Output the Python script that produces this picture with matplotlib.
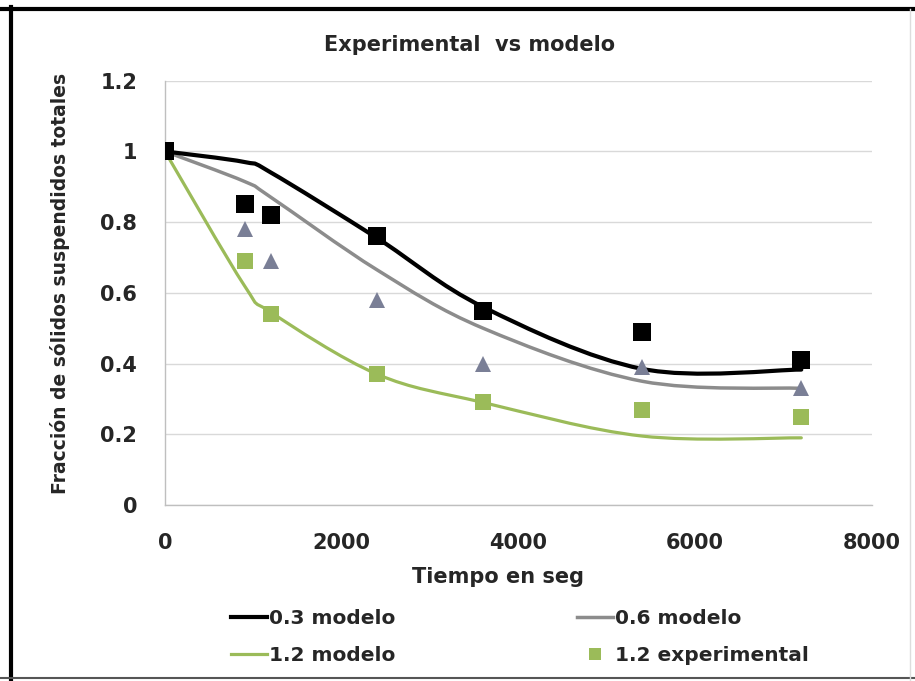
import matplotlib
matplotlib.use("Agg")
import matplotlib.pyplot as plt
from matplotlib.path import Path
from matplotlib.patches import PathPatch
from matplotlib.lines import Line2D

plt.rcParams['font.family'] = ['DejaVu Sans']
plt.rcParams['font.weight'] = 'bold'

# data
t_exp = [0, 900, 1200, 2400, 3600, 5400, 7200]
exp_03 = [1.0, 0.85, 0.82, 0.76, 0.55, 0.49, 0.41]
exp_06 = [1.0, 0.78, 0.69, 0.58, 0.40, 0.39, 0.33]
exp_12 = [1.0, 0.69, 0.54, 0.37, 0.29, 0.27, 0.25]

t_mod = [0, 900, 1200, 2400, 3600, 5400, 7200]
mod_03 = [1.0, 0.97, 0.94, 0.755, 0.56, 0.385, 0.383]
mod_06 = [1.0, 0.915, 0.87, 0.665, 0.50, 0.35, 0.33]
mod_12 = [1.0, 0.62, 0.545, 0.37, 0.29, 0.195, 0.19]

x_ticks = [0, 2000, 4000, 6000, 8000]
y_ticks = [0, 0.2, 0.4, 0.6, 0.8, 1, 1.2]
y_labels = ["0", "0.2", "0.4", "0.6", "0.8", "1", "1.2"]

BLACK = "#000000"
GRAY = "#8C8C8C"
TRI = "#7A7F96"
GREEN = "#9BBB59"
TXT = "#262626"


def smooth_path(xs, ys):
    # excel style smoothed line, bezier segments through the points
    verts = [(xs[0], ys[0])]
    codes = [Path.MOVETO]
    n = len(xs)
    for i in range(n - 1):
        a = i - 1 if i > 0 else i
        b = i + 2 if i + 2 < n else i + 1
        c1 = (xs[i] + (xs[i + 1] - xs[a]) / 6, ys[i] + (ys[i + 1] - ys[a]) / 6)
        c2 = (xs[i + 1] - (xs[b] - xs[i]) / 6, ys[i + 1] - (ys[b] - ys[i]) / 6)
        verts += [c1, c2, (xs[i + 1], ys[i + 1])]
        codes += [Path.CURVE4] * 3
    return Path(verts, codes)


fig = plt.figure(figsize=(9.15, 6.81), dpi=100)
ax = fig.add_axes([0.1803, 0.2584, 0.7727, 0.6231])

for ys, col, lw in [(mod_12, GREEN, 2.3), (mod_06, GRAY, 2.5), (mod_03, BLACK, 3.0)]:
    ax.add_patch(PathPatch(smooth_path(t_mod, ys), fill=False, edgecolor=col,
                           lw=lw, capstyle='round', joinstyle='round', zorder=3))

ax.plot(t_exp, exp_12, "s", color=GREEN, ms=11.5, mew=0, zorder=4)
ax.plot(t_exp, exp_06, "^", color=TRI, ms=12, mew=0, zorder=5)
ax.plot(t_exp, exp_03, "s", color=BLACK, ms=13, mew=0, zorder=6)

ax.set_xlim(0, 8000)
ax.set_ylim(0, 1.2)
ax.set_xticks(x_ticks)
ax.set_xticklabels([str(v) for v in x_ticks])
ax.set_yticks(y_ticks)
ax.set_yticklabels(y_labels)
ax.tick_params(length=0, labelsize=15, colors=TXT)
ax.tick_params(axis='y', pad=20)
ax.tick_params(axis='x', pad=20)
ax.grid(axis='y', color="#D9D9D9", lw=1)
ax.set_axisbelow(True)
for s in ["top", "right"]:
    ax.spines[s].set_visible(False)
for s in ["left", "bottom"]:
    ax.spines[s].set_color("#BFBFBF")
    ax.spines[s].set_linewidth(1)

fig.text(470 / 915, 1 - 45 / 681, "Experimental  vs modelo", ha="center", va="center",
         fontsize=15, color=TXT)
fig.text(498 / 915, 1 - 577 / 681, "Tiempo en seg", ha="center", va="center",
         fontsize=15, color=TXT)
fig.text(60 / 915, 1 - 283 / 681, "Fracción de sólidos suspendidos totales", ha="center",
         va="center", rotation=90, fontsize=13.5, color=TXT)

handles = [
    Line2D([], [], color=BLACK, lw=3.0),
    Line2D([], [], color=GREEN, lw=2.3),
    Line2D([], [], color=GRAY, lw=2.5),
    Line2D([], [], color=GREEN, marker="s", ls="none", ms=8.5, mew=0),
]
labels = ["0.3 modelo", "1.2 modelo", "0.6 modelo", "1.2 experimental"]
fig.legend(handles, labels, ncol=2, loc="center", bbox_to_anchor=(520 / 915, 1 - 637 / 681),
           frameon=False, fontsize=14.5, handlelength=1.8, handletextpad=0.1,
           columnspacing=9.0, labelspacing=0.85, labelcolor=TXT)

# screenshot frame
fig.add_artist(Line2D([0.0, 1.0], [1 - 9 / 681, 1 - 9 / 681], color="black", lw=3))
fig.add_artist(Line2D([11 / 915, 11 / 915], [0.0, 1 - 7 / 681], color="black", lw=3))
fig.add_artist(Line2D([0.0, 1.0], [1 - 678 / 681, 1 - 678 / 681], color="#555555", lw=1.5))
fig.add_artist(Line2D([910 / 915, 910 / 915], [0.0, 1 - 9 / 681], color="#DDDDDD", lw=1))

fig.savefig("out.png", dpi=100)
